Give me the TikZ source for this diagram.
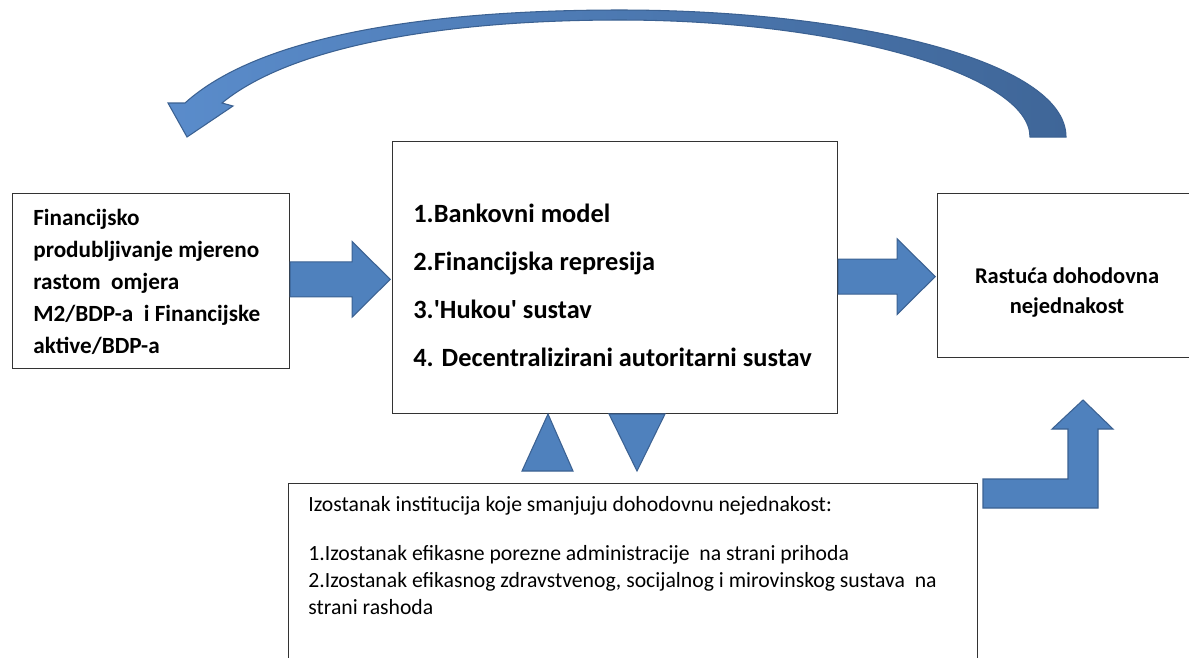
\documentclass[tikz,border=0pt]{standalone}
\usepackage{fontspec}
\setmainfont{Carlito}
\usetikzlibrary{calc}

\definecolor{arrowfill}{HTML}{4F81BD}
\definecolor{arrowedge}{HTML}{3B6192}
\definecolor{curveleft}{HTML}{5A8CCB}
\definecolor{curveright}{HTML}{3F6698}

% fat arrow between two named nodes
\newcommand{\flowarrow}[2]{%
	\filldraw[flow] let \p1=(#1), \p2=(#2), \p3=($(#1)!0.5!(#2)$) in
		(\x1,\y3+10pt) -- (\x2-22.7pt,\y3+10pt) -- (\x2-22.7pt,\y3+21.5pt) -- (\x2-1pt,\y3)
		-- (\x2-22.7pt,\y3-21.5pt) -- (\x2-22.7pt,\y3-10pt) -- (\x1,\y3-10pt) -- cycle;
}

\begin{document}
\begin{tikzpicture}[
		x=0.02cm, y=-0.02cm,
		box/.style={draw=black!80, line width=0.7pt, inner sep=0pt, anchor=north west},
		txt/.style={inner sep=0pt, anchor=north west, align=left},
		flow/.style={fill=arrowfill, draw=arrowedge, line width=0.6pt, line join=miter}
	]

		\fill[white] (0,0) rectangle (1189,657);
		\useasboundingbox (0,0) rectangle (1189,657);

		%left box
		\node[box, minimum width=5.54cm, minimum height=3.5cm] (fin) at (12,193) {};
		\node[txt, font=\fontsize{13.2pt}{18.2pt}\selectfont\bfseries] (finT) at (33,209)
			{Financijsko\\produbljivanje mjereno\\rastom\ \ omjera\\M2/BDP-a\ \ i Financijske\\aktive/BDP-a};

		%middle box
		\node[box, minimum width=8.9cm, minimum height=5.44cm] (mod) at (392,141) {};
		\node[txt, font=\fontsize{15pt}{27.2pt}\selectfont\bfseries] (modT) at (413,204)
			{1.Bankovni model\\2.Financijska represija\\3.\textquotesingle Hukou\textquotesingle\ sustav\\4. Decentralizirani autoritarni sustav};

		%right box
		\node[box, minimum width=5.2cm, minimum height=3.28cm] (ineq) at (937,193) {};
		\node[txt, anchor=north, align=center, font=\fontsize{12.8pt}{17pt}\selectfont\bfseries] (ineqT) at (1067,267)
			{Rastuća dohodovna\\nejednakost};

		%bottom box
		\node[box, minimum width=13.78cm, minimum height=4.4cm] (inst) at (288,483) {};
		\node[txt, font=\fontsize{12.35pt}{15.2pt}\selectfont] (instT) at (308,496)
			{Izostanak institucija koje smanjuju dohodovnu nejednakost:\\[13pt]
			1.Izostanak efikasne porezne administracije\ \ na strani prihoda\\
			2.Izostanak efikasnog zdravstvenog, socijalnog i mirovinskog sustava\ \ na\\
			strani rashoda};

		%arrows between boxes
		\flowarrow{fin.east}{mod.west}
		\flowarrow{mod.east}{ineq.west}

		%up and down triangles
		\filldraw[flow] (522,471) -- (548,414) -- (573,471) -- cycle;
		\filldraw[flow] (609,414) -- (665,414) -- (637,471) -- cycle;

		%bent arrow
		\filldraw[flow] (983,479) -- (1068,479) -- (1068,429) -- (1052,429) -- (1083,400)
			-- (1113,429) -- (1098,429) -- (1098,508) -- (983,508) -- cycle;

		%curved arrow
		\shadedraw[left color=curveleft, right color=curveright, draw=arrowedge, line width=0.6pt]
			(1066,137) .. controls (1066,60) and (850,10) .. (620,10)
			.. controls (430,10) and (260,35) .. (185,103) -- (168,103) -- (187,137)
			-- (233,106) -- (222,103) .. controls (290,47) and (440,20) .. (620,20)
			.. controls (840,20) and (1030,75) .. (1030,137) -- cycle;
	\end{tikzpicture}
\end{document}
